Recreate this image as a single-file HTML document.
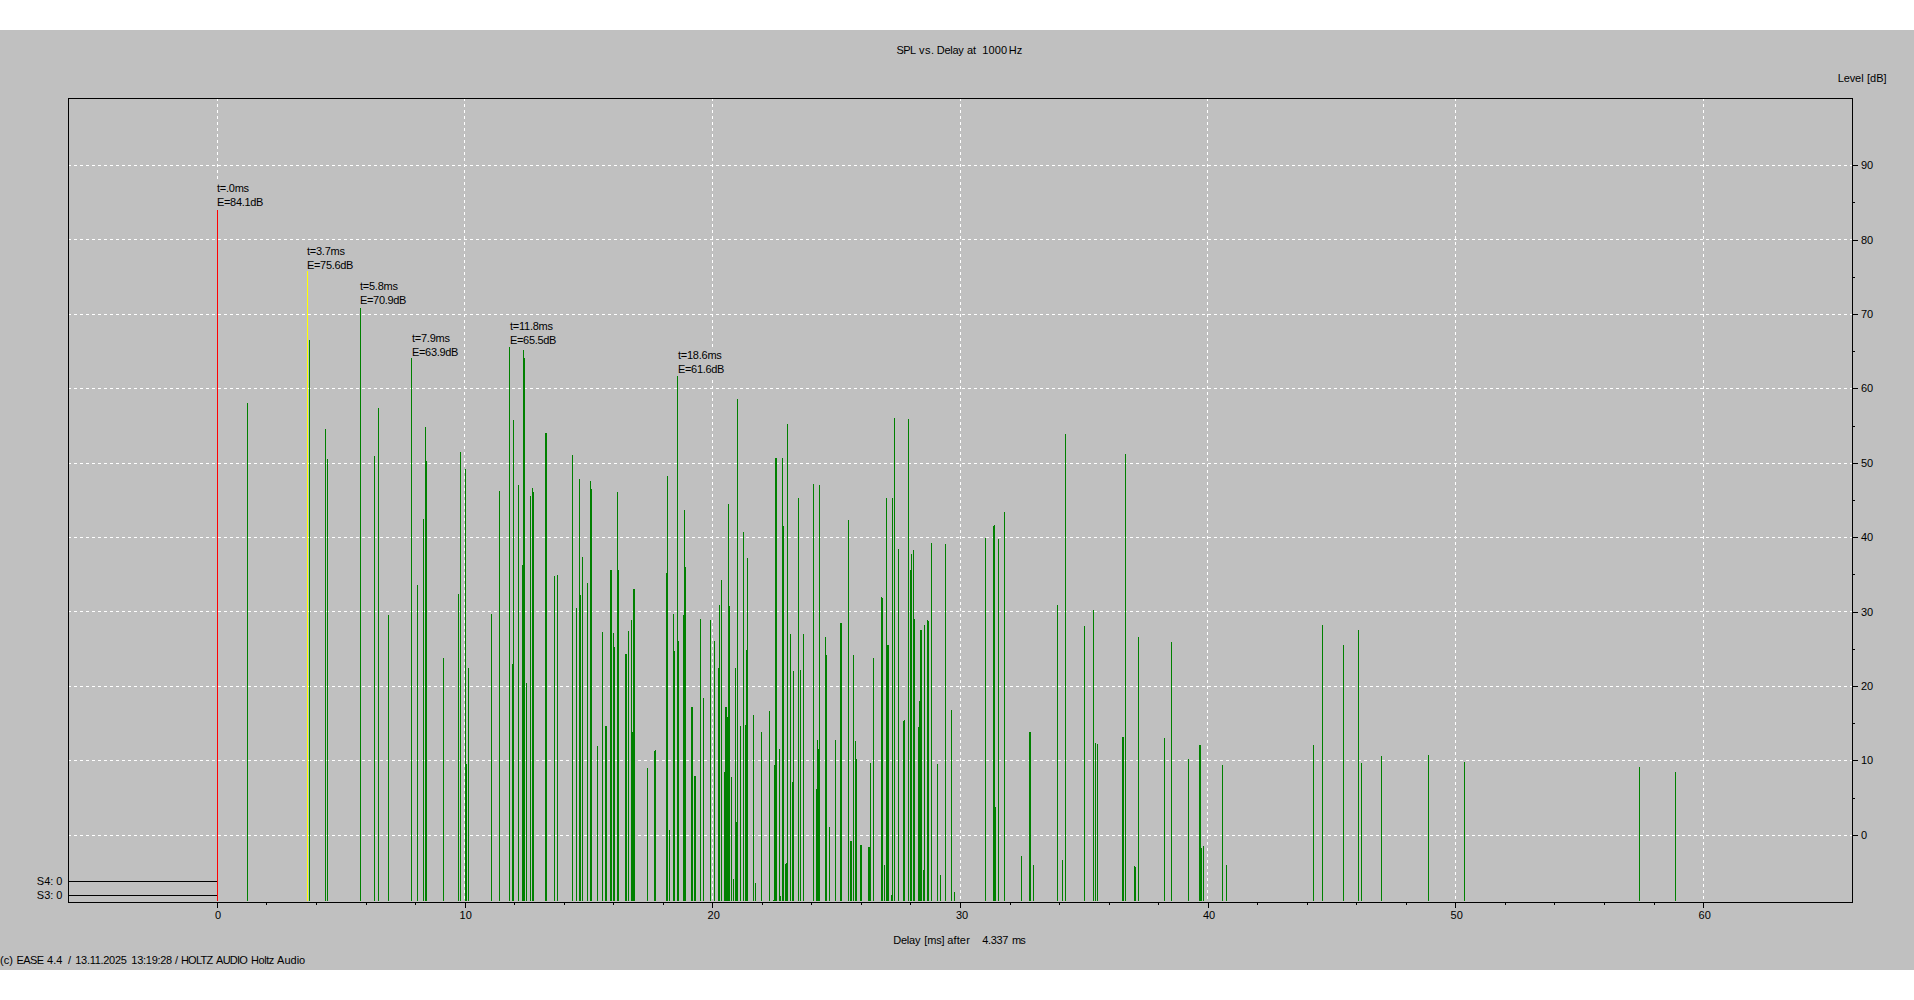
<!DOCTYPE html>
<html><head><meta charset="utf-8"><title>SPL vs. Delay</title>
<style>
html,body{margin:0;padding:0;background:#fff;overflow:hidden}
body{width:1914px;height:1000px;position:relative;font-family:"Liberation Sans",sans-serif}
svg{position:absolute;left:0;top:0;display:block}
text{font-family:"Liberation Sans",sans-serif;font-size:11px;fill:#000}
</style></head><body>
<svg width="1914" height="1000" viewBox="0 0 1914 1000">
<rect x="0" y="0" width="1914" height="1000" fill="#fff"/>
<rect x="0" y="30" width="1914" height="940" fill="#c0c0c0"/>

<g stroke="#fff" stroke-width="1" stroke-dasharray="3 3" shape-rendering="crispEdges" fill="none">
<line x1="217.5" y1="98" x2="217.5" y2="902"/>
<line x1="464.5" y1="98" x2="464.5" y2="902"/>
<line x1="712.5" y1="98" x2="712.5" y2="902"/>
<line x1="960.5" y1="98" x2="960.5" y2="902"/>
<line x1="1207.5" y1="98" x2="1207.5" y2="902"/>
<line x1="1455.5" y1="98" x2="1455.5" y2="902"/>
<line x1="1703.5" y1="98" x2="1703.5" y2="902"/>
<line x1="68" y1="165.5" x2="1852" y2="165.5"/>
<line x1="68" y1="239.5" x2="1852" y2="239.5"/>
<line x1="68" y1="314.5" x2="1852" y2="314.5"/>
<line x1="68" y1="388.5" x2="1852" y2="388.5"/>
<line x1="68" y1="463.5" x2="1852" y2="463.5"/>
<line x1="68" y1="537.5" x2="1852" y2="537.5"/>
<line x1="68" y1="611.5" x2="1852" y2="611.5"/>
<line x1="68" y1="686.5" x2="1852" y2="686.5"/>
<line x1="68" y1="760.5" x2="1852" y2="760.5"/>
<line x1="68" y1="835.5" x2="1852" y2="835.5"/>
</g>
<g fill="#c0c0c0" shape-rendering="crispEdges">
<rect x="216" y="181" width="50" height="29"/>
<rect x="306" y="244" width="50" height="29"/>
<rect x="359" y="279" width="50" height="29"/>
<rect x="411" y="331" width="50" height="29"/>
<rect x="509" y="319" width="50" height="29"/>
<rect x="677" y="348" width="50" height="29"/>
</g>
<g shape-rendering="crispEdges">
<rect x="217" y="210" width="1" height="691" fill="#ff0000"/>
<rect x="307" y="271" width="1" height="630" fill="#ffff00"/>
<path fill="#008000" d="M247 403h1V901h-1zM309 340h1V901h-1zM325 429h1V901h-1zM327 459h1V901h-1zM360 308h1V901h-1zM374 456h1V901h-1zM378 408h1V901h-1zM388 615h1V901h-1zM411 358h1V901h-1zM417 585h1V901h-1zM423 519h1V901h-1zM425 427h1V901h-1zM426 461h1V901h-1zM443 658h1V901h-1zM458 594h1V901h-1zM460 452h1V901h-1zM465 469h1V901h-1zM466 764h1V901h-1zM468 668h1V901h-1zM491 614h1V901h-1zM499 491h1V901h-1zM509 347h1V901h-1zM512 664h1V901h-1zM513 420h1V901h-1zM518 485h1V901h-1zM522 565h1V901h-1zM523 350h1V901h-1zM524 358h1V901h-1zM526 683h1V901h-1zM530 496h1V901h-1zM532 488h1V901h-1zM533 492h1V901h-1zM545 433h1V901h-1zM546 433h1V901h-1zM554 576h1V901h-1zM557 575h1V901h-1zM572 455h1V901h-1zM576 608h1V901h-1zM579 479h1V901h-1zM580 595h1V901h-1zM582 557h1V901h-1zM587 583h1V901h-1zM590 481h1V901h-1zM591 489h1V901h-1zM597 746h1V901h-1zM602 632h1V901h-1zM605 726h1V901h-1zM606 726h1V901h-1zM610 570h1V901h-1zM611 570h1V901h-1zM613 633h1V901h-1zM614 647h1V901h-1zM617 492h1V901h-1zM618 570h1V901h-1zM625 654h1V901h-1zM626 654h1V901h-1zM628 631h1V901h-1zM631 620h1V901h-1zM632 732h1V901h-1zM633 589h1V901h-1zM634 589h1V901h-1zM647 768h1V901h-1zM654 751h1V901h-1zM655 750h1V901h-1zM666 573h1V901h-1zM667 476h1V901h-1zM669 830h1V901h-1zM673 614h1V901h-1zM674 651h1V901h-1zM677 376h1V901h-1zM678 641h1V901h-1zM683 615h1V901h-1zM684 510h1V901h-1zM685 567h1V901h-1zM691 707h1V901h-1zM692 707h1V901h-1zM694 776h1V901h-1zM695 776h1V901h-1zM700 619h1V901h-1zM703 698h1V901h-1zM710 620h1V901h-1zM714 641h1V901h-1zM718 668h1V901h-1zM719 605h1V901h-1zM721 580h1V901h-1zM724 772h1V901h-1zM725 707h1V901h-1zM726 707h1V901h-1zM727 717h1V901h-1zM728 504h1V901h-1zM729 606h1V901h-1zM731 777h1V901h-1zM733 879h1V901h-1zM735 668h1V901h-1zM736 822h1V901h-1zM737 399h1V901h-1zM740 726h1V901h-1zM743 532h1V901h-1zM745 725h1V901h-1zM746 650h1V901h-1zM747 558h1V901h-1zM753 715h1V901h-1zM755 883h1V901h-1zM761 732h1V901h-1zM769 711h1V901h-1zM773 900h1V901h-1zM774 765h1V901h-1zM775 458h1V901h-1zM776 458h1V901h-1zM779 749h1V901h-1zM780 896h1V901h-1zM782 458h1V901h-1zM783 526h1V901h-1zM785 864h1V901h-1zM786 863h1V901h-1zM787 424h1V901h-1zM790 634h1V901h-1zM792 782h1V901h-1zM793 671h1V901h-1zM798 498h1V901h-1zM800 670h1V901h-1zM803 634h1V901h-1zM813 484h1V901h-1zM816 789h1V901h-1zM817 740h1V901h-1zM818 749h1V901h-1zM819 485h1V901h-1zM825 637h1V901h-1zM826 655h1V901h-1zM829 827h1V901h-1zM835 740h1V901h-1zM840 623h1V901h-1zM841 623h1V901h-1zM848 520h1V901h-1zM850 841h1V901h-1zM851 841h1V901h-1zM853 655h1V901h-1zM855 741h1V901h-1zM856 759h1V901h-1zM860 845h1V901h-1zM861 845h1V901h-1zM868 847h1V901h-1zM869 847h1V901h-1zM870 763h1V901h-1zM873 658h1V901h-1zM881 597h1V901h-1zM882 598h1V901h-1zM884 865h1V901h-1zM886 498h1V901h-1zM887 645h1V901h-1zM888 645h1V901h-1zM891 895h1V901h-1zM892 498h1V901h-1zM894 418h1V901h-1zM898 549h1V901h-1zM903 721h1V901h-1zM904 720h1V901h-1zM908 419h1V901h-1zM910 570h1V901h-1zM911 554h1V901h-1zM913 550h1V901h-1zM914 619h1V901h-1zM918 727h1V901h-1zM919 701h1V901h-1zM920 630h1V901h-1zM921 630h1V901h-1zM923 870h1V901h-1zM924 625h1V901h-1zM927 620h1V901h-1zM928 621h1V901h-1zM931 543h1V901h-1zM937 764h1V901h-1zM940 875h1V901h-1zM945 544h1V901h-1zM951 710h1V901h-1zM954 892h1V901h-1zM985 538h1V901h-1zM993 526h1V901h-1zM994 525h1V901h-1zM995 807h1V901h-1zM998 539h1V901h-1zM1004 512h1V901h-1zM1021 856h1V901h-1zM1029 732h1V901h-1zM1030 732h1V901h-1zM1033 865h1V901h-1zM1057 605h1V901h-1zM1062 860h1V901h-1zM1065 434h1V901h-1zM1084 626h1V901h-1zM1093 610h1V901h-1zM1095 743h1V901h-1zM1097 744h1V901h-1zM1122 737h1V901h-1zM1123 737h1V901h-1zM1125 454h1V901h-1zM1134 866h1V901h-1zM1135 867h1V901h-1zM1138 637h1V901h-1zM1164 738h1V901h-1zM1171 642h1V901h-1zM1188 759h1V901h-1zM1199 745h1V901h-1zM1200 745h1V901h-1zM1201 848h1V901h-1zM1203 846h1V901h-1zM1222 765h1V901h-1zM1226 865h1V901h-1zM1313 745h1V901h-1zM1322 625h1V901h-1zM1343 645h1V901h-1zM1358 630h1V901h-1zM1361 763h1V901h-1zM1381 756h1V901h-1zM1428 755h1V901h-1zM1464 762h1V901h-1zM1639 767h1V901h-1zM1675 772h1V901h-1z"/>
</g>
<g fill="#000" shape-rendering="crispEdges">
<rect x="68" y="98" width="1785" height="1"/>
<rect x="68" y="902" width="1785" height="1"/>
<rect x="68" y="98" width="1" height="805"/>
<rect x="1852" y="98" width="1" height="805"/>
<rect x="69" y="881" width="148" height="1"/>
<rect x="69" y="895" width="148" height="1"/>
<rect x="217" y="903" width="1" height="5"/>
<rect x="266" y="903" width="1" height="2"/>
<rect x="316" y="903" width="1" height="2"/>
<rect x="366" y="903" width="1" height="2"/>
<rect x="415" y="903" width="1" height="2"/>
<rect x="465" y="903" width="1" height="5"/>
<rect x="514" y="903" width="1" height="2"/>
<rect x="564" y="903" width="1" height="2"/>
<rect x="613" y="903" width="1" height="2"/>
<rect x="663" y="903" width="1" height="2"/>
<rect x="712" y="903" width="1" height="5"/>
<rect x="762" y="903" width="1" height="2"/>
<rect x="811" y="903" width="1" height="2"/>
<rect x="861" y="903" width="1" height="2"/>
<rect x="910" y="903" width="1" height="2"/>
<rect x="960" y="903" width="1" height="5"/>
<rect x="1010" y="903" width="1" height="2"/>
<rect x="1059" y="903" width="1" height="2"/>
<rect x="1109" y="903" width="1" height="2"/>
<rect x="1158" y="903" width="1" height="2"/>
<rect x="1208" y="903" width="1" height="5"/>
<rect x="1257" y="903" width="1" height="2"/>
<rect x="1307" y="903" width="1" height="2"/>
<rect x="1356" y="903" width="1" height="2"/>
<rect x="1406" y="903" width="1" height="2"/>
<rect x="1455" y="903" width="1" height="5"/>
<rect x="1505" y="903" width="1" height="2"/>
<rect x="1554" y="903" width="1" height="2"/>
<rect x="1604" y="903" width="1" height="2"/>
<rect x="1654" y="903" width="1" height="2"/>
<rect x="1703" y="903" width="1" height="5"/>
<rect x="1853" y="835" width="5" height="1"/>
<rect x="1853" y="798" width="2" height="1"/>
<rect x="1853" y="760" width="5" height="1"/>
<rect x="1853" y="723" width="2" height="1"/>
<rect x="1853" y="686" width="5" height="1"/>
<rect x="1853" y="649" width="2" height="1"/>
<rect x="1853" y="612" width="5" height="1"/>
<rect x="1853" y="574" width="2" height="1"/>
<rect x="1853" y="537" width="5" height="1"/>
<rect x="1853" y="500" width="2" height="1"/>
<rect x="1853" y="463" width="5" height="1"/>
<rect x="1853" y="426" width="2" height="1"/>
<rect x="1853" y="388" width="5" height="1"/>
<rect x="1853" y="351" width="2" height="1"/>
<rect x="1853" y="314" width="5" height="1"/>
<rect x="1853" y="277" width="2" height="1"/>
<rect x="1853" y="240" width="5" height="1"/>
<rect x="1853" y="202" width="2" height="1"/>
<rect x="1853" y="165" width="5" height="1"/>
</g>
<g>
<text x="896.5" y="54" letter-spacing="-0.6">SPL</text>
<text x="919.1" y="54" letter-spacing="0.5">vs.</text>
<text x="936.8" y="54" letter-spacing="-0.3">Delay</text>
<text x="966.9" y="54">at</text>
<text x="982.3" y="54" letter-spacing="0.1">1000</text>
<text x="1008.7" y="54">Hz</text>
<text x="1837.7" y="82" letter-spacing="-0.1">Level</text>
<text x="1867.0" y="82">[dB]</text>
<text x="893.3" y="944" letter-spacing="-0.26">Delay</text>
<text x="924.3" y="944" letter-spacing="-0.17">[ms]</text>
<text x="947.2" y="944" letter-spacing="0.15">after</text>
<text x="982.2" y="944" letter-spacing="-0.35">4.337</text>
<text x="1012.1" y="944" letter-spacing="-1.0">ms</text>
<text x="0" y="964" letter-spacing="0.1">(c)</text>
<text x="16.5" y="964" letter-spacing="-0.6">EASE</text>
<text x="47.1" y="964">4.4</text>
<text x="67.9" y="964">/</text>
<text x="75.3" y="964" letter-spacing="-0.3">13.11.2025</text>
<text x="131.3" y="964" letter-spacing="-0.27">13:19:28</text>
<text x="175.1" y="964">/</text>
<text x="180.9" y="964" letter-spacing="-0.75">HOLTZ</text>
<text x="216.05" y="964" letter-spacing="-0.75">AUDIO</text>
<text x="251.1" y="964" letter-spacing="-0.45">Holtz</text>
<text x="277.1" y="964">Audio</text>
<text x="36.8" y="885">S4:&#160;0</text>
<text x="36.8" y="899">S3:&#160;0</text>
<text x="217" y="192" letter-spacing="-0.25">t=.0ms</text>
<text x="217" y="206" letter-spacing="-0.32">E=84.1dB</text>
<text x="307" y="255" letter-spacing="-0.25">t=3.7ms</text>
<text x="307" y="269" letter-spacing="-0.32">E=75.6dB</text>
<text x="360" y="290" letter-spacing="-0.25">t=5.8ms</text>
<text x="360" y="304" letter-spacing="-0.32">E=70.9dB</text>
<text x="412" y="342" letter-spacing="-0.25">t=7.9ms</text>
<text x="412" y="356" letter-spacing="-0.32">E=63.9dB</text>
<text x="510" y="330" letter-spacing="-0.25">t=11.8ms</text>
<text x="510" y="344" letter-spacing="-0.32">E=65.5dB</text>
<text x="678" y="359" letter-spacing="-0.25">t=18.6ms</text>
<text x="678" y="373" letter-spacing="-0.32">E=61.6dB</text>
<text x="214.9" y="919">0</text>
<text x="459.6" y="919">10</text>
<text x="707.6" y="919">20</text>
<text x="956.0" y="919">30</text>
<text x="1202.9" y="919">40</text>
<text x="1450.6" y="919">50</text>
<text x="1698.6" y="919">60</text>
<text x="1861.0" y="839">0</text>
<text x="1861.0" y="764">10</text>
<text x="1861.0" y="690">20</text>
<text x="1861.0" y="616">30</text>
<text x="1861.0" y="541">40</text>
<text x="1861.0" y="467">50</text>
<text x="1861.0" y="392">60</text>
<text x="1861.0" y="318">70</text>
<text x="1861.0" y="244">80</text>
<text x="1861.0" y="169">90</text>
</g>
</svg></body></html>
